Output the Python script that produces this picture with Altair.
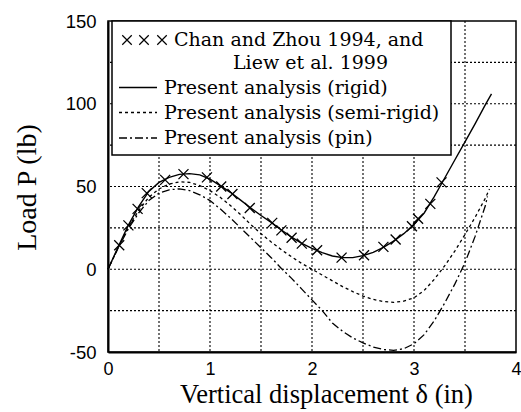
import altair as alt
import pandas as pd

# Reference data (Chan and Zhou 1994, Liew et al. 1999)
ref_x = [0.11, 0.20, 0.29, 0.38, 0.56, 0.74, 0.97, 1.11, 1.22, 1.39, 1.61, 1.70,
         1.80, 1.90, 2.05, 2.29, 2.51, 2.70, 2.82, 2.98, 3.04, 3.16, 3.27]
ref_y = [14.5, 26.5, 36.5, 46.0, 54.0, 57.5, 55.5, 50.0, 45.5, 37.0, 28.0, 23.5,
         19.0, 15.5, 11.5, 7.0, 8.5, 13.5, 18.0, 26.0, 30.5, 39.5, 52.5]

# Present analysis (rigid)
rig_x = [0, 0.1, 0.2, 0.3, 0.4, 0.5, 0.6, 0.7, 0.8, 0.9, 1.0, 1.1, 1.2, 1.3, 1.4,
         1.5, 1.6, 1.7, 1.8, 1.9, 2.0, 2.1, 2.2, 2.3, 2.4, 2.5, 2.6, 2.7, 2.8, 2.9,
         3.0, 3.1, 3.2, 3.3, 3.4, 3.5, 3.6, 3.7, 3.76]
rig_y = [0, 13.5, 26.7, 37.8, 47.0, 52.5, 55.5, 57.3, 57.8, 57.0, 54.5, 50.5, 46.5,
         41.8, 37.0, 32.5, 28.3, 23.7, 19.4, 15.7, 12.6, 10.0, 8.0, 7.0, 7.0, 8.2,
         10.2, 13.2, 17.0, 21.5, 27.0, 34.0, 44.0, 55.0, 66.0, 77.0, 88.0, 99.5, 106.0]

# Present analysis (semi-rigid)
semi_x = [0, 0.1, 0.2, 0.3, 0.4, 0.5, 0.6, 0.7, 0.8, 0.9, 1.0, 1.1, 1.2, 1.3, 1.4,
          1.5, 1.6, 1.7, 1.8, 1.9, 2.0, 2.1, 2.2, 2.3, 2.4, 2.5, 2.6, 2.7, 2.8, 2.9,
          3.0, 3.1, 3.2, 3.3, 3.4, 3.5, 3.6, 3.7, 3.74]
semi_y = [0, 13.0, 25.5, 35.5, 43.5, 48.5, 51.5, 52.8, 52.5, 50.5, 47.5, 43.5, 38.5,
          33.0, 27.0, 21.5, 16.5, 11.8, 7.5, 3.5, 0.0, -3.5, -7.0, -10.5, -13.5,
          -16.2, -18.2, -19.5, -20.0, -19.3, -17.2, -12.8, -6.0, 2.0, 11.0, 21.0,
          31.5, 43.0, 48.5]

# Present analysis (pin)
pin_x = [0, 0.1, 0.2, 0.3, 0.4, 0.5, 0.6, 0.7, 0.8, 0.9, 1.0, 1.1, 1.2, 1.3, 1.4,
         1.5, 1.6, 1.7, 1.8, 1.9, 2.0, 2.1, 2.2, 2.3, 2.4, 2.5, 2.6, 2.7, 2.8, 2.9,
         3.0, 3.1, 3.2, 3.3, 3.4, 3.5, 3.6, 3.7, 3.72]
pin_y = [0, 12.8, 24.5, 34.0, 41.5, 46.0, 48.0, 48.6, 47.5, 45.0, 41.5, 36.5, 31.0,
         25.0, 19.0, 13.0, 7.0, 0.5, -5.5, -12.0, -18.5, -25.0, -32.5, -37.5, -41.5,
         -44.5, -47.0, -48.5, -49.0, -48.0, -45.0, -39.5, -31.0, -20.5, -9.0, 4.0,
         20.0, 38.5, 44.0]

legend_labels = ["Chan and Zhou 1994, and", "Liew et al. 1999",
                 "Present analysis (rigid)", "Present analysis (semi-rigid)",
                 "Present analysis (pin)"]

x_grid = [0.5, 1, 1.5, 2, 2.5, 3, 3.5]
y_grid = [-25, 0, 25, 50, 75, 100, 125]
x_ticks = [0, 1, 2, 3, 4]
y_ticks = [-50, 0, 50, 100, 150]

SERIF = "Liberation Serif"
LEGSERIF = "DejaVu Serif"
SANS = "Liberation Sans"
CROSS = "M-1,-1L1,1M-1,1L1,-1"
DOT = [2, 2]

xs = alt.Scale(domain=[0, 4], nice=False)
ys = alt.Scale(domain=[-50, 150], nice=False)

x_axis = alt.Axis(values=x_ticks, labelExpr="'' + datum.value",
                  grid=False, ticks=False, domain=True, domainColor="black", domainWidth=2,
                  labelFont=SANS, labelFontSize=18, labelColor="black", labelPadding=8,
                  labelFlush=False, labelOverlap=False,
                  title="Vertical displacement δ (in)", titleFont=SERIF, titleFontSize=26.5,
                  titleFontWeight="normal", titleColor="black", titleX=218, titleY=50,
                  titleBaseline="alphabetic", titleAlign="center")
y_axis = alt.Axis(values=y_ticks, labelExpr="'' + datum.value",
                  grid=False, ticks=False, domain=True, domainColor="black", domainWidth=2,
                  labelFont=SANS, labelFontSize=18.5, labelColor="black", labelPadding=12,
                  labelFlush=False, labelOverlap=False,
                  title="Load P (lb)", titleFont=SERIF, titleFontSize=28,
                  titleFontWeight="normal", titleColor="black", titleX=-73, titleY=166,
                  titleAngle=270, titleBaseline="alphabetic", titleAlign="center")

ref_df = pd.DataFrame({"x": ref_x, "y": ref_y})
rig_df = pd.DataFrame({"x": rig_x, "y": rig_y})
semi_df = pd.DataFrame({"x": semi_x, "y": semi_y})
pin_df = pd.DataFrame({"x": pin_x, "y": pin_y})

vgrid = alt.Chart(pd.DataFrame({"g": x_grid})).mark_rule(
    color="black", strokeWidth=1.1, strokeDash=DOT).encode(
    x=alt.X("g:Q", scale=xs, axis=x_axis))
hgrid = alt.Chart(pd.DataFrame({"g": y_grid})).mark_rule(
    color="black", strokeWidth=1.1, strokeDash=DOT).encode(
    y=alt.Y("g:Q", scale=ys, axis=y_axis))

def curve(df, dash, width=1.3):
    kw = dict(color="black", strokeWidth=width)
    if dash:
        kw["strokeDash"] = dash
    return alt.Chart(df).mark_line(**kw).encode(
        x=alt.X("x:Q", scale=xs), y=alt.Y("y:Q", scale=ys), order=alt.Order("x:Q"))

rig_line = curve(rig_df, None, 1.4)
semi_line = curve(semi_df, [3, 3], 1.3)
pin_line = curve(pin_df, [8, 3, 2, 3], 1.3)

ref_pts = alt.Chart(ref_df).mark_point(shape=CROSS, filled=False, color="black",
                                       strokeWidth=1.3, size=100, opacity=1).encode(
    x=alt.X("x:Q", scale=xs), y=alt.Y("y:Q", scale=ys))

# legend box (drawn in pixel space over the plot)
one = pd.DataFrame({"a": [0]})
box = alt.Chart(one).mark_rect(fill="white", stroke="black", strokeWidth=1.5).encode(
    x=alt.value(4), x2=alt.value(343), y=alt.value(0), y2=alt.value(134))

row_y = [19, 41.5, 66.5, 91.5, 117]
leg = [box]
for cx in [19, 36, 54]:
    leg.append(alt.Chart(one).mark_point(shape=CROSS, filled=False, color="black",
                                         strokeWidth=1.2, size=90, opacity=1).encode(
        x=alt.value(cx), y=alt.value(row_y[0])))
text_x = [66, 280, 56, 56, 56]
text_align = ["left", "right", "left", "left", "left"]
for lbl, tx, ty, al in zip(legend_labels, text_x, row_y, text_align):
    leg.append(alt.Chart(one).mark_text(text=lbl, font=LEGSERIF, fontSize=19, color="black",
                                        align=al, baseline="middle").encode(
        x=alt.value(tx), y=alt.value(ty)))
for dash, ty in zip([None, [3, 3], [8, 3, 2, 3]], row_y[2:]):
    kw = dict(color="black", strokeWidth=1.3)
    if dash:
        kw["strokeDash"] = dash
    leg.append(alt.Chart(one).mark_rule(**kw).encode(
        x=alt.value(11), x2=alt.value(49), y=alt.value(ty)))

chart = alt.layer(vgrid, hgrid, pin_line, semi_line, rig_line, ref_pts, *leg).properties(
    width=408, height=331,
    padding={"left": 108, "top": 21, "right": 5, "bottom": 60},
    autosize=alt.AutoSizeParams(type="none"),
    background="white",
).configure_view(stroke="black", strokeWidth=1.5)

chart.save("out.html", embed_options={"renderer": "svg", "actions": False})
